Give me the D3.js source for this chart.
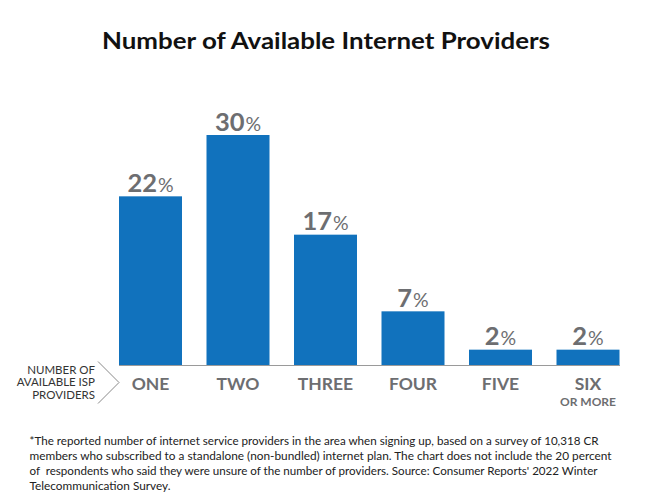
<!DOCTYPE html>
<html><head><meta charset="utf-8">
<script src="https://cdn.jsdelivr.net/npm/d3@7/dist/d3.min.js"></script>
<style>body{margin:0;background:#fff}svg{display:block}</style>
</head><body><svg id="c" width="652" height="504"></svg>
<script>
const categories = ["ONE","TWO","THREE","FOUR","FIVE","SIX"];
const subLabels = ["","","","","","OR MORE"];
const values = [22,30,17,7,2,2];
const valueLabels = ["22","30","17","7","2","2"];
const title = "Number of Available Internet Providers";
const axisNote = ["NUMBER OF","AVAILABLE ISP","PROVIDERS"];
const footnote = [
 "*The reported number of internet service providers in the area when signing up, based on a survey of 10,318 CR",
 "members who subscribed to a standalone (non-bundled) internet plan. The chart does not include the 20 percent",
 "of  respondents who said they were unsure of the number of providers. Source: Consumer Reports' 2022 Winter",
 "Telecommunication Survey."
];
const footW = [569, 582, 568, 141];

const svg = d3.select("#c");
const font = "Lato, 'Open Sans', sans-serif";
const gray = "#6d6e71";
const blue = "#1172bd";

const x = d3.scaleBand().domain(categories).range([119, 619.5]).paddingInner(0.28).paddingOuter(0);
const y = d3.scaleLinear().domain([0, 30]).range([365, 135]);

svg.append("text").attr("x", 326).attr("y", 48.5).attr("text-anchor","middle")
  .attr("font-family", font).attr("font-weight", 700).attr("font-size", 23.5)
  .attr("fill", "#111").attr("textLength", 448).attr("lengthAdjust","spacingAndGlyphs").text(title);

svg.selectAll("rect.bar").data(values).join("rect").attr("class","bar")
  .attr("x", (d,i)=>x(categories[i])).attr("width", x.bandwidth())
  .attr("y", d=>y(d)).attr("height", d=>y(0)-y(d)).attr("fill", blue);

svg.append("line").attr("x1", 119).attr("x2", 620).attr("y1", 365.5).attr("y2", 365.5)
  .attr("stroke", "#9a9a9a").attr("stroke-width", 1);

const lbl = svg.selectAll("text.val").data(values).join("text").attr("class","val")
  .attr("x", (d,i)=>x(categories[i]) + x.bandwidth()/2).attr("y", d=>y(d)-4.5)
  .attr("text-anchor","middle").attr("font-family", font).attr("fill", gray);
lbl.append("tspan").attr("font-weight",700).attr("font-size",25.5).text((d,i)=>valueLabels[i]);
lbl.append("tspan").attr("font-weight",400).attr("font-size",19.5).attr("dx",1).text("%");

svg.selectAll("text.cat").data(categories).join("text").attr("class","cat")
  .attr("x", d=>x(d)+x.bandwidth()/2).attr("y", 389.5).attr("text-anchor","middle")
  .attr("font-family", font).attr("font-weight",700).attr("font-size",17.5).attr("fill", gray).text(d=>d);

svg.selectAll("text.sub").data(subLabels).join("text").attr("class","sub")
  .attr("x", (d,i)=>x(categories[i])+x.bandwidth()/2).attr("y", 406).attr("text-anchor","middle")
  .attr("font-family", font).attr("font-weight",700).attr("font-size",12).attr("fill", gray).text(d=>d);

svg.selectAll("text.note").data(axisNote).join("text").attr("class","note")
  .attr("x", 95).attr("y", (d,i)=>373.5 + i*12.5).attr("text-anchor","end")
  .attr("font-family", font).attr("font-weight",400).attr("font-size",11.5).attr("fill", "#333").text(d=>d);

svg.append("path").attr("d", "M98,361.5 L119,382.5 L98,403.5").attr("fill","none")
  .attr("stroke","#8a8a8a").attr("stroke-width",1);

svg.selectAll("text.foot").data(footnote).join("text").attr("class","foot")
  .attr("x", 29.5).attr("y", (d,i)=>444.5 + i*15.3)
  .attr("font-family", font).attr("font-size", 11.2).attr("fill", "#222")
  .style("white-space","pre")
  .attr("textLength", (d,i)=>footW[i]).attr("lengthAdjust","spacingAndGlyphs").text(d=>d);
</script></body></html>
